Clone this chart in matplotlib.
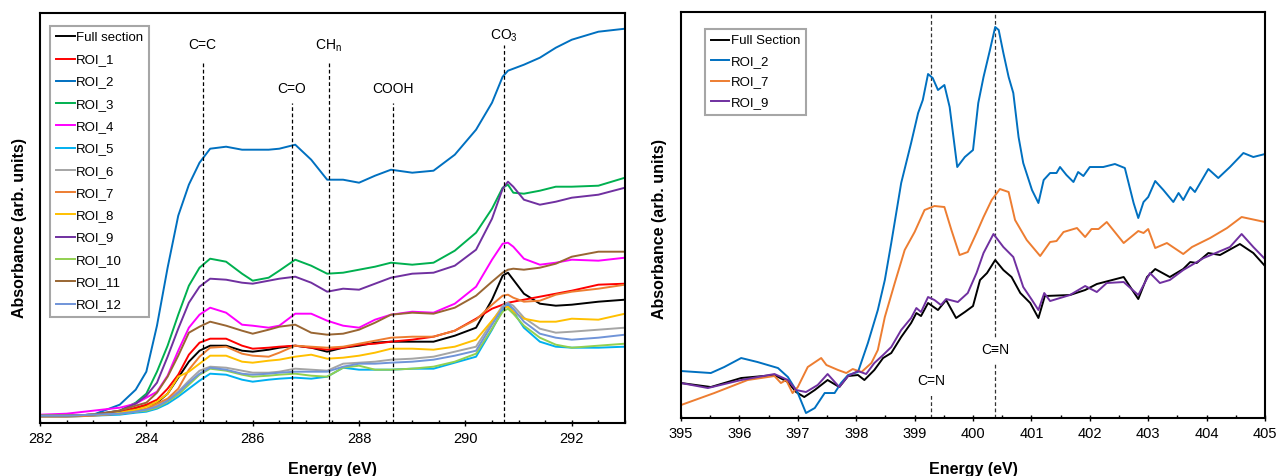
import matplotlib
matplotlib.use('Agg')
import matplotlib.pyplot as plt
from matplotlib.ticker import MultipleLocator
import matplotlib.transforms as mtransforms

plt.rcParams['font.family'] = ['Liberation Sans', 'DejaVu Sans']
plt.rcParams['mathtext.default'] = 'regular'

# ---- C K-edge spectra (left panel) ----
energy_c = [282.0, 282.5, 283.0, 283.5, 283.8, 284.0, 284.2, 284.4, 284.6, 284.8,
            285.0, 285.2, 285.5, 285.8, 286.0, 286.3, 286.5, 286.8, 287.1, 287.4,
            287.7, 288.0, 288.3, 288.6, 289.0, 289.4, 289.8, 290.2, 290.5, 290.7,
            290.8, 290.9, 291.1, 291.4, 291.7, 292.0, 292.5, 293.0]

full_section = [0.03, 0.03, 0.04, 0.06, 0.10, 0.13, 0.16, 0.25, 0.41, 0.57, 0.68, 0.73, 0.73,
                0.68, 0.67, 0.69, 0.71, 0.73, 0.71, 0.67, 0.71, 0.73, 0.76, 0.77, 0.77, 0.77,
                0.83, 0.91, 1.19, 1.43, 1.46, 1.39, 1.25, 1.15, 1.13, 1.14, 1.17, 1.19]
roi_1 = [0.03, 0.03, 0.04, 0.07, 0.11, 0.14, 0.19, 0.30, 0.44, 0.64, 0.76, 0.80, 0.80,
         0.73, 0.70, 0.71, 0.72, 0.73, 0.71, 0.69, 0.71, 0.74, 0.75, 0.77, 0.79, 0.82,
         0.88, 1.00, 1.10, 1.14, 1.16, 1.17, 1.19, 1.22, 1.25, 1.28, 1.34, 1.35]
roi_2 = [0.03, 0.03, 0.04, 0.14, 0.29, 0.47, 0.93, 1.51, 2.03, 2.34, 2.56, 2.70, 2.72,
         2.69, 2.69, 2.69, 2.70, 2.74, 2.59, 2.39, 2.39, 2.36, 2.43, 2.49, 2.46, 2.48,
         2.64, 2.89, 3.16, 3.42, 3.48, 3.50, 3.54, 3.61, 3.71, 3.79, 3.87, 3.90]
roi_3 = [0.03, 0.03, 0.04, 0.08, 0.16, 0.25, 0.47, 0.73, 1.04, 1.33, 1.51, 1.60, 1.57,
         1.45, 1.38, 1.41, 1.48, 1.59, 1.53, 1.45, 1.46, 1.49, 1.52, 1.56, 1.54, 1.56,
         1.68, 1.86, 2.10, 2.31, 2.34, 2.26, 2.25, 2.28, 2.32, 2.32, 2.33, 2.41]
roi_4 = [0.04, 0.05, 0.08, 0.11, 0.15, 0.21, 0.27, 0.43, 0.68, 0.91, 1.04, 1.11, 1.06,
         0.94, 0.93, 0.91, 0.93, 1.05, 1.05, 0.98, 0.93, 0.91, 0.99, 1.04, 1.07, 1.06,
         1.15, 1.32, 1.59, 1.75, 1.76, 1.72, 1.60, 1.54, 1.56, 1.59, 1.58, 1.61]
roi_5 = [0.02, 0.02, 0.03, 0.04, 0.06, 0.07, 0.10, 0.15, 0.22, 0.30, 0.38, 0.45, 0.44,
         0.39, 0.37, 0.39, 0.40, 0.41, 0.40, 0.42, 0.51, 0.49, 0.49, 0.49, 0.50, 0.50,
         0.56, 0.62, 0.89, 1.09, 1.14, 1.07, 0.91, 0.77, 0.72, 0.71, 0.71, 0.72]
roi_6 = [0.03, 0.03, 0.04, 0.05, 0.07, 0.09, 0.13, 0.19, 0.27, 0.38, 0.48, 0.52, 0.51,
         0.48, 0.46, 0.46, 0.47, 0.50, 0.49, 0.48, 0.55, 0.56, 0.57, 0.59, 0.60, 0.62,
         0.67, 0.72, 0.97, 1.13, 1.16, 1.13, 1.01, 0.90, 0.86, 0.87, 0.89, 0.91]
roi_7 = [0.02, 0.02, 0.03, 0.05, 0.08, 0.10, 0.15, 0.20, 0.30, 0.49, 0.62, 0.71, 0.72,
         0.65, 0.63, 0.62, 0.66, 0.73, 0.72, 0.71, 0.72, 0.75, 0.78, 0.81, 0.82, 0.82,
         0.88, 0.99, 1.14, 1.23, 1.24, 1.21, 1.17, 1.18, 1.24, 1.27, 1.30, 1.34]
roi_8 = [0.03, 0.03, 0.04, 0.06, 0.09, 0.12, 0.17, 0.25, 0.42, 0.47, 0.55, 0.63, 0.63,
         0.57, 0.56, 0.58, 0.59, 0.62, 0.64, 0.60, 0.61, 0.63, 0.66, 0.70, 0.70, 0.69,
         0.72, 0.79, 0.98, 1.11, 1.12, 1.07, 1.00, 0.97, 0.97, 1.00, 0.99, 1.05]
roi_9 = [0.03, 0.03, 0.04, 0.08, 0.15, 0.23, 0.36, 0.62, 0.90, 1.16, 1.32, 1.40, 1.39,
         1.36, 1.35, 1.38, 1.40, 1.42, 1.36, 1.27, 1.30, 1.29, 1.35, 1.41, 1.45, 1.46,
         1.53, 1.69, 2.00, 2.30, 2.37, 2.32, 2.19, 2.14, 2.17, 2.21, 2.24, 2.31]
roi_10 = [0.03, 0.03, 0.04, 0.05, 0.07, 0.08, 0.11, 0.17, 0.24, 0.34, 0.44, 0.50, 0.48,
          0.44, 0.42, 0.43, 0.44, 0.45, 0.43, 0.42, 0.51, 0.53, 0.49, 0.49, 0.50, 0.52,
          0.57, 0.65, 0.90, 1.07, 1.10, 1.05, 0.93, 0.81, 0.74, 0.71, 0.73, 0.75]
roi_11 = [0.03, 0.03, 0.04, 0.08, 0.13, 0.16, 0.26, 0.42, 0.63, 0.86, 0.92, 0.97, 0.93,
          0.88, 0.85, 0.89, 0.92, 0.94, 0.86, 0.84, 0.85, 0.89, 0.96, 1.04, 1.06, 1.05,
          1.11, 1.23, 1.37, 1.46, 1.49, 1.50, 1.49, 1.51, 1.55, 1.62, 1.67, 1.67]
roi_12 = [0.03, 0.03, 0.04, 0.05, 0.07, 0.09, 0.12, 0.18, 0.26, 0.36, 0.45, 0.51, 0.49,
          0.45, 0.44, 0.45, 0.46, 0.47, 0.47, 0.47, 0.52, 0.55, 0.55, 0.56, 0.57, 0.59,
          0.63, 0.68, 0.94, 1.11, 1.15, 1.10, 0.97, 0.85, 0.81, 0.79, 0.81, 0.84]

labels_c = ['Full section', 'ROI_1', 'ROI_2', 'ROI_3', 'ROI_4', 'ROI_5', 'ROI_6',
            'ROI_7', 'ROI_8', 'ROI_9', 'ROI_10', 'ROI_11', 'ROI_12']
colors_c = ['black', '#FF0000', '#0070C0', '#00B050', '#FF00FF', '#00B0F0', '#A5A5A5',
            '#ED7D31', '#FFC000', '#7030A0', '#92D050', '#996633', '#7094D8']

peaks_c = ['C=C', 'C=O', 'CH$_n$', 'COOH', 'CO$_3$']
peak_pos_c = [285.06, 286.74, 287.43, 288.63, 290.72]

# ---- N K-edge spectra (right panel) ----
e_full_n = [395.0, 395.51, 396.03, 396.6, 396.83, 396.97, 397.11, 397.29, 397.51, 397.71,
            397.86, 398.03, 398.14, 398.31, 398.46, 398.6, 398.77, 398.94, 399.03, 399.11,
            399.23, 399.4, 399.54, 399.71, 399.86, 400.0, 400.12, 400.24, 400.38, 400.52,
            400.66, 400.81, 400.98, 401.12, 401.23, 401.66, 401.92, 402.12, 402.58, 402.83,
            402.98, 403.12, 403.37, 403.6, 403.72, 403.83, 404.03, 404.23, 404.57, 404.8, 405.0]
full_n = [0.35, 0.31, 0.40, 0.43, 0.36, 0.26, 0.21, 0.28, 0.38, 0.31,
          0.42, 0.43, 0.38, 0.48, 0.60, 0.65, 0.81, 0.95, 1.05, 1.02,
          1.15, 1.08, 1.18, 1.00, 1.06, 1.12, 1.38, 1.45, 1.58, 1.48,
          1.41, 1.25, 1.15, 1.00, 1.22, 1.23, 1.28, 1.34, 1.41, 1.19,
          1.41, 1.49, 1.41, 1.49, 1.56, 1.55, 1.65, 1.63, 1.74, 1.65, 1.52]

e_roi2_n = [395.0, 395.51, 395.74, 396.03, 396.31, 396.66, 396.83, 397.0, 397.14, 397.29,
            397.46, 397.63, 397.74, 397.86, 398.03, 398.2, 398.37, 398.49, 398.6, 398.77,
            398.94, 399.06, 399.14, 399.23, 399.31, 399.4, 399.51, 399.6, 399.73, 399.86,
            400.0, 400.09, 400.18, 400.29, 400.38, 400.44, 400.52, 400.61, 400.69, 400.78,
            400.86, 401.01, 401.12, 401.21, 401.32, 401.43, 401.49, 401.6, 401.72, 401.8,
            401.89, 402.0, 402.23, 402.43, 402.6, 402.75, 402.83, 402.92, 403.0, 403.12,
            403.26, 403.43, 403.52, 403.6, 403.72, 403.8, 404.03, 404.2, 404.4, 404.63,
            404.8, 405.0]
roi2_n = [0.47, 0.45, 0.51, 0.60, 0.56, 0.50, 0.41, 0.25, 0.05, 0.10,
          0.25, 0.25, 0.35, 0.43, 0.46, 0.75, 1.08, 1.38, 1.75, 2.35,
          2.75, 3.05, 3.18, 3.44, 3.40, 3.28, 3.33, 3.11, 2.51, 2.61,
          2.68, 3.15, 3.41, 3.68, 3.91, 3.88, 3.65, 3.41, 3.25, 2.81,
          2.55, 2.28, 2.15, 2.38, 2.45, 2.45, 2.51, 2.43, 2.36, 2.46,
          2.42, 2.51, 2.51, 2.54, 2.50, 2.15, 2.00, 2.16, 2.21, 2.37,
          2.28, 2.16, 2.25, 2.18, 2.31, 2.26, 2.49, 2.40, 2.51, 2.65,
          2.61, 2.64]

e_roi7_n = [395.0, 395.57, 396.14, 396.6, 396.71, 396.8, 396.91, 397.0, 397.17, 397.4,
            397.49, 397.69, 397.83, 397.94, 398.09, 398.26, 398.37, 398.49, 398.66, 398.83,
            399.0, 399.17, 399.34, 399.51, 399.63, 399.77, 399.91, 400.06, 400.18, 400.32,
            400.46, 400.61, 400.72, 400.92, 401.15, 401.32, 401.43, 401.55, 401.78, 401.92,
            402.03, 402.15, 402.29, 402.58, 402.83, 402.92, 403.0, 403.12, 403.32, 403.6,
            403.75, 404.06, 404.35, 404.6, 405.0]
roi7_n = [0.13, 0.25, 0.38, 0.42, 0.35, 0.38, 0.25, 0.31, 0.51, 0.60,
          0.53, 0.48, 0.45, 0.49, 0.46, 0.55, 0.68, 1.01, 1.35, 1.68,
          1.86, 2.08, 2.12, 2.11, 1.88, 1.63, 1.66, 1.85, 2.01, 2.18,
          2.29, 2.26, 1.98, 1.78, 1.62, 1.76, 1.77, 1.86, 1.90, 1.81,
          1.89, 1.89, 1.96, 1.75, 1.87, 1.85, 1.89, 1.70, 1.75, 1.64,
          1.71, 1.80, 1.90, 2.01, 1.96]

e_roi9_n = [395.0, 395.46, 396.03, 396.6, 396.83, 396.97, 397.14, 397.34, 397.51, 397.71,
            397.86, 398.03, 398.17, 398.31, 398.46, 398.6, 398.77, 398.94, 399.03, 399.11,
            399.23, 399.34, 399.45, 399.54, 399.74, 399.91, 400.06, 400.18, 400.35, 400.52,
            400.69, 400.86, 401.01, 401.12, 401.22, 401.32, 401.66, 401.92, 402.12, 402.29,
            402.58, 402.83, 403.03, 403.2, 403.37, 403.6, 403.95, 404.4, 404.6, 404.8, 405.0]
roi9_n = [0.35, 0.30, 0.38, 0.44, 0.38, 0.28, 0.26, 0.33, 0.44, 0.31,
          0.42, 0.47, 0.44, 0.55, 0.63, 0.71, 0.88, 1.00, 1.10, 1.06,
          1.21, 1.18, 1.13, 1.19, 1.16, 1.25, 1.45, 1.65, 1.84, 1.71,
          1.61, 1.31, 1.18, 1.08, 1.25, 1.17, 1.23, 1.32, 1.26, 1.35,
          1.36, 1.23, 1.45, 1.35, 1.38, 1.48, 1.60, 1.71, 1.84, 1.71, 1.59]

peaks_n = ['C=N', 'C\u2261N']
peak_pos_n = [399.28, 400.38]


def style_axis(ax, major, minor):
    for s in ax.spines.values():
        s.set_linewidth(1.5)
    ax.set_yticks([])
    ax.xaxis.set_major_locator(MultipleLocator(major))
    ax.xaxis.set_minor_locator(MultipleLocator(minor))
    ax.tick_params(axis='x', which='major', direction='inout', length=5, width=1,
                   labelsize=10.5, pad=4)
    ax.tick_params(axis='x', which='minor', direction='in', length=2.5, width=1)
    ax.set_xlabel('Energy (eV)', fontsize=11.5, fontweight='bold')
    ax.set_ylabel('Absorbance (arb. units)', fontsize=11.5, fontweight='bold')


fig = plt.figure(figsize=(12.77, 4.76), dpi=100)

# left: carbon
ax1 = fig.add_axes([0.0313, 0.1120, 0.4581, 0.8613])
series_c = [full_section, roi_1, roi_2, roi_3, roi_4, roi_5, roi_6,
            roi_7, roi_8, roi_9, roi_10, roi_11, roi_12]
for y, lab, col in zip(series_c, labels_c, colors_c):
    ax1.plot(energy_c, y, color=col, lw=1.4, label=lab)
ax1.set_xlim(282, 293)
ax1.set_ylim(-0.04, 4.06)
style_axis(ax1, 2, 0.5)
ax1.xaxis.set_label_coords(0.5, -0.096)
ax1.yaxis.set_label_coords(-0.022, 0.474)

trans1 = mtransforms.blended_transform_factory(ax1.transData, ax1.transAxes)
line_top_c = [0.880, 0.780, 0.880, 0.780, 0.921]
text_y_c = [0.911, 0.803, 0.911, 0.803, 0.935]
for name, pos, top, ty in zip(peaks_c, peak_pos_c, line_top_c, text_y_c):
    ax1.plot([pos, pos], [0, top], transform=trans1, color='black', lw=0.9,
             linestyle=(0, (3, 2)))
    ax1.text(pos, ty, name, transform=trans1, ha='center', va='baseline', fontsize=10)

leg1 = ax1.legend(loc='upper left', bbox_to_anchor=(0.018, 0.968), borderaxespad=0,
                  fontsize=9.5, handlelength=1.4, handletextpad=0.1, labelspacing=0.76,
                  borderpad=0.45, fancybox=False, framealpha=1)
leg1.get_frame().set_edgecolor('#A6A6A6')
leg1.get_frame().set_linewidth(1.5)

# right: nitrogen
ax2 = fig.add_axes([0.5333, 0.1218, 0.4573, 0.8536])
ax2.plot(e_full_n, full_n, color='black', lw=1.4, label='Full Section')
ax2.plot(e_roi2_n, roi2_n, color='#0070C0', lw=1.4, label='ROI_2')
ax2.plot(e_roi7_n, roi7_n, color='#ED7D31', lw=1.4, label='ROI_7')
ax2.plot(e_roi9_n, roi9_n, color='#7030A0', lw=1.4, label='ROI_9')
ax2.set_xlim(395, 405)
ax2.set_ylim(0, 4.063)
style_axis(ax2, 1, 0.5)
ax2.xaxis.set_label_coords(0.5, -0.108)
ax2.yaxis.set_label_coords(-0.024, 0.466)

trans2 = mtransforms.blended_transform_factory(ax2.transData, ax2.transAxes)
text_y_n = [0.081, 0.157]
for name, pos, ty in zip(peaks_n, peak_pos_n, text_y_n):
    ax2.axvline(pos, color='#333333', lw=0.9, linestyle=(0, (3, 2)), zorder=1)
    ax2.text(pos, ty, name, transform=trans2, ha='center', va='baseline', fontsize=10,
             bbox=dict(facecolor='white', edgecolor='none', pad=4), zorder=3)

leg2 = ax2.legend(loc='upper left', bbox_to_anchor=(0.041, 0.957), borderaxespad=0,
                  fontsize=9.5, handlelength=1.4, handletextpad=0.1, labelspacing=0.62,
                  borderpad=0.45, fancybox=False, framealpha=1)
leg2.get_frame().set_edgecolor('#A6A6A6')
leg2.get_frame().set_linewidth(1.5)

fig.savefig('out.png', dpi=100)
